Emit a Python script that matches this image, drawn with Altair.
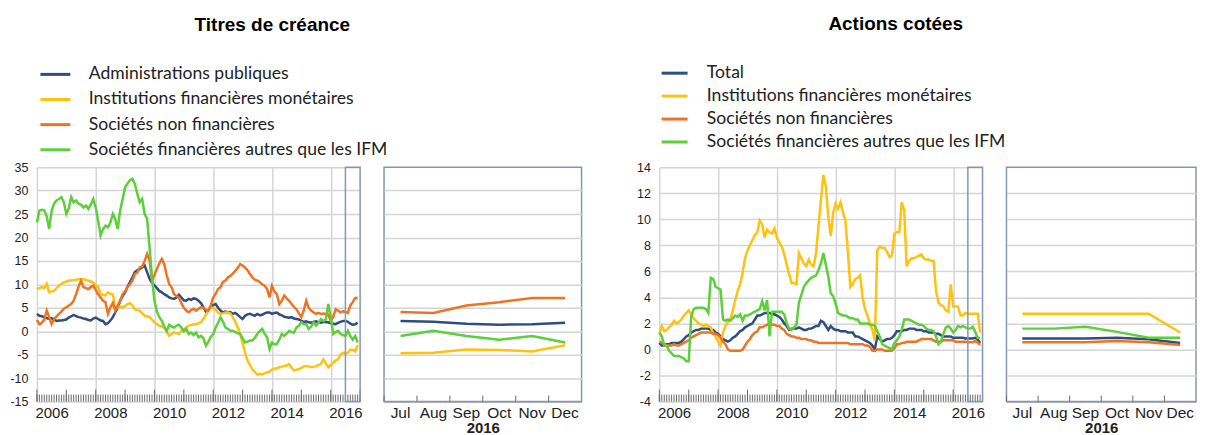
import altair as alt
import pandas as pd

# ---------------- data ----------------
years = list(range(2006, 2017))
zoom_months = ["Jul", "Aug", "Sep", "Oct", "Nov", "Dec"]

debt_labels = ["Administrations publiques", "Institutions financières monétaires",
               "Sociétés non financières", "Sociétés financières autres que les IFM"]
eq_labels = ["Total", "Institutions financières monétaires",
             "Sociétés non financières", "Sociétés financières autres que les IFM"]
series_colors = ["#2f4d7e", "#ffc20e", "#ee7423", "#5dcf3b"]

# Titres de créance (monthly, Jan 2006 - Dec 2016)
debt_apu = [3.7, 3.3, 3.2, 3.0, 2.8, 2.6, 2.8, 2.5, 2.2, 2.3, 2.3, 2.4,
            2.5, 2.9, 3.2, 3.5, 3.2, 3.0, 2.9, 2.7, 2.6, 2.4, 2.3, 2.7,
            2.9, 2.6, 2.3, 2.2, 1.5, 1.7, 2.3, 3.0, 4.0, 5.1, 6.5, 7.5,
            8.3, 9.5, 10.5, 11.5, 12.6, 13.0, 13.3, 13.6, 14.0, 12.6, 11.2, 10.3,
            9.8, 9.2, 8.6, 8.3, 7.9, 7.6, 7.2, 7.0, 6.9, 7.2, 7.8, 7.2,
            6.6, 6.5, 6.9, 6.7, 7.0, 6.9, 6.5, 6.0, 5.1, 4.2, 4.5, 5.1,
            5.6, 5.8, 5.0, 4.4, 4.0, 4.2, 4.0, 4.1, 3.7, 3.9, 3.5, 3.0,
            2.6, 3.3, 3.6, 3.7, 3.5, 3.3, 3.7, 3.4, 3.5, 3.8, 4.0, 4.0,
            3.7, 3.9, 4.0, 3.6, 3.4, 3.1, 3.0, 2.9, 3.0, 2.7, 2.6, 2.5,
            2.2, 2.0, 2.1, 1.9, 1.8, 2.0, 2.1, 1.9, 1.8, 2.0, 1.9, 1.9,
            1.7, 1.6, 1.5, 1.8, 2.0, 2.2, 2.2, 2.0, 1.6, 1.4, 1.5, 1.8]
debt_ifm = [9.0, 9.2, 9.4, 9.2, 10.1, 8.3, 8.5, 8.6, 9.2, 9.7, 10.1, 10.4,
            10.6, 10.8, 10.8, 10.9, 11.0, 11.1, 11.1, 11.1, 11.0, 10.8, 10.6, 10.4,
            9.8, 9.4, 7.9, 7.8, 7.6, 8.3, 8.0, 7.9, 5.1, 5.0, 5.3, 5.1,
            5.4, 5.8, 6.0, 5.5, 4.7, 4.5, 4.4, 3.8, 3.3, 3.2, 3.0, 2.5,
            1.9, 1.5, 1.2, 1.0, 0.8, 0.0, -1.0, -0.6, -0.3, -0.4, -0.6, 0.0,
            0.4, 0.8, 1.2, 1.3, 1.5, 1.5, 1.7, 1.9, 2.6, 3.5, 4.4, 5.0,
            5.0, 4.6, 4.0, 3.7, 3.8, 4.0, 4.0, 3.8, 3.0, 2.0, 0.8, -0.5,
            -2.5, -4.5, -6.3, -7.2, -8.1, -8.7, -9.2, -9.1, -9.2, -9.0, -8.8, -8.6,
            -8.2, -8.0, -7.9, -7.7, -7.6, -7.4, -7.3, -7.0, -7.8, -8.4, -8.2, -8.1,
            -7.8, -7.5, -7.4, -7.5, -7.7, -7.6, -7.5, -7.2, -7.0, -6.0, -6.8, -7.7,
            -7.2, -6.7, -6.2, -6.0, -5.0, -4.6, -4.7, -4.6, -3.9, -4.0, -4.3, -3.0]
debt_snf = [2.4, 1.5, 1.8, 2.5, 4.4, 3.0, 1.5, 2.5, 3.2, 3.7, 4.2, 4.8,
            5.1, 5.5, 5.8, 6.5, 7.9, 9.5, 10.8, 9.4, 9.2, 9.0, 9.4, 9.7,
            8.8, 7.9, 7.2, 6.5, 6.2, 3.7, 5.1, 6.0, 4.4, 5.5, 6.5, 7.9,
            8.5, 9.4, 10.0, 10.8, 12.2, 12.5, 13.6, 13.8, 15.0, 16.5, 15.1, 10.8,
            12.0, 13.3, 14.5, 15.4, 14.3, 12.0, 10.1, 9.4, 7.9, 7.5, 7.2, 6.0,
            5.0, 4.4, 4.0, 4.5, 4.8, 4.4, 4.8, 5.1, 5.0, 4.6, 4.4, 5.5,
            7.2, 8.0, 9.0, 9.4, 10.5, 10.8, 11.5, 11.8, 12.3, 12.9, 13.5, 14.3,
            14.0, 13.6, 13.0, 12.2, 11.5, 11.0, 10.8, 10.5, 10.0, 9.7, 9.0, 7.2,
            9.7, 8.5, 7.9, 5.8, 6.5, 7.6, 7.0, 6.5, 5.8, 5.2, 4.7, 3.8,
            3.0, 4.5, 6.5, 5.0, 4.4, 4.0, 3.7, 3.9, 3.7, 3.8, 3.7, 3.5,
            2.2, 3.0, 4.7, 4.4, 4.0, 4.3, 4.1, 3.9, 5.5, 6.2, 7.1, 7.1]
debt_sfai = [23.2, 25.7, 25.9, 25.8, 24.5, 21.8, 25.7, 27.2, 27.9, 28.2, 28.6, 27.5,
             25.0, 26.2, 28.6, 27.5, 27.9, 27.2, 27.0, 26.4, 26.8, 26.1, 27.0, 28.2,
             26.4, 23.6, 20.4, 21.8, 22.5, 22.2, 23.2, 25.0, 23.9, 21.8, 25.7, 28.2,
             30.7, 31.5, 32.2, 32.5, 31.4, 29.3, 27.5, 28.2, 25.0, 24.0, 17.9, 11.5,
             6.5, 4.2, 3.0, 2.2, 1.0, 0.0, 1.4, 1.0, 0.8, 1.2, 1.4, 0.8,
             0.0, 0.5, -0.6, -0.3, -0.8, -0.3, -1.3, -1.0, -1.5, -3.1, -2.3, -1.2,
             -0.6, 0.8, 1.8, 3.0, 2.0, 0.8, 0.5, 0.1, 0.1, -0.2, -0.4, -0.6,
             -1.5, -2.4, -2.2, -2.0, -2.0, -1.4, -0.6, 0.0, 0.5, -0.5, -1.3, -3.8,
             -2.4, -2.8, -2.7, -1.8, -0.6, -1.0, -0.5, 0.1, -0.2, -0.3, 0.8, 1.2,
             1.9, 1.5, 1.5, 0.5, 1.0, 1.9, 1.2, 1.8, 2.6, 2.2, 2.5, 5.8,
             3.0, -0.6, -0.2, 0.1, -0.6, -0.8, -1.0, 0.1, -1.0, -1.8, -1.0, -2.4]

# Actions cotées (monthly, Jan 2006 - Dec 2016)
eq_total = [0.5, 0.3, 0.3, 0.4, 0.4, 0.5, 0.5, 0.5, 0.5, 0.6, 0.8, 1.0,
            1.1, 1.3, 1.4, 1.5, 1.5, 1.6, 1.6, 1.6, 1.6, 1.5, 1.5, 1.3,
            1.2, 1.0, 0.8, 0.7, 0.6, 0.7, 0.9, 1.0, 1.2, 1.4, 1.5, 1.7,
            1.8, 1.9, 2.0, 2.3, 2.6, 2.6, 2.7, 2.8, 2.8, 2.8, 2.7, 2.7,
            2.6, 2.5, 2.3, 2.0, 1.8, 1.5, 1.6, 1.6, 1.6, 1.7, 1.6, 1.5,
            1.5, 1.6, 1.6, 1.7, 1.8, 1.8, 2.2, 2.1, 1.8, 1.5, 1.8, 1.6,
            1.5, 1.5, 1.4, 1.4, 1.4, 1.3, 1.3, 1.3, 1.0, 1.0, 0.9, 0.8,
            0.7, 0.6, 0.5, 0.3, 0.0, 1.0, 0.8, 0.6, 0.7, 0.8, 0.8, 0.9,
            1.1, 1.4, 1.4, 1.4, 1.5, 1.5, 1.6, 1.6, 1.6, 1.5, 1.5, 1.5,
            1.4, 1.4, 1.3, 1.3, 1.3, 1.2, 1.2, 1.1, 1.0, 1.0, 1.0, 1.0,
            0.9, 0.9, 0.9, 0.9, 0.9, 0.85, 0.85, 0.85, 0.85, 0.9, 0.78, 0.5]
eq_ifm = [1.2, 1.8, 1.4, 1.5, 1.7, 1.9, 2.2, 2.0, 2.1, 2.3, 2.6, 2.8,
          3.0, 2.7, 2.4, 2.2, 2.0, 1.9, 1.8, 1.9, 1.8, 1.7, 1.2, 1.0,
          0.6, 0.3, 1.3, 1.8, 2.1, 2.3, 3.0, 3.8, 4.5, 5.0, 5.9, 7.0,
          7.6, 8.0, 8.4, 8.8, 9.0, 9.9, 9.6, 8.6, 9.2, 9.0, 8.9, 9.3,
          8.6, 8.2, 7.9, 7.3, 6.5, 5.8, 5.1, 5.1, 5.0, 7.4, 7.0, 6.6,
          6.4, 6.9, 6.5, 6.4, 7.4, 9.5, 11.5, 13.4, 12.5, 10.2, 8.7, 10.5,
          11.2, 10.8, 11.3, 10.5, 9.9, 7.5, 4.8, 5.0, 5.4, 5.5, 5.7, 4.0,
          3.1, 2.6, 2.0, 1.5, 0.7, 7.6, 7.9, 7.8, 7.8, 7.5, 7.1, 7.2,
          8.9, 9.0, 9.0, 11.3, 10.7, 6.4, 6.8, 7.0, 7.0, 7.1, 7.2, 7.3,
          7.0, 6.9, 6.9, 6.8, 6.8, 4.5, 3.6, 3.4, 3.3, 3.0, 2.9, 5.0,
          3.3, 3.3, 3.3, 2.6, 2.6, 2.8, 2.75, 2.75, 2.75, 2.75, 2.75, 1.3]
eq_snf = [0.6, 0.5, 0.4, 0.3, 0.3, 0.3, 0.4, 0.3, 0.3, 0.4, 0.5, 0.6,
          0.7, 0.9, 1.0, 1.1, 1.2, 1.3, 1.3, 1.3, 1.3, 1.3, 1.2, 1.2,
          1.1, 0.9, 0.6, 0.4, 0.0, -0.1, -0.1, -0.1, -0.1, -0.1, 0.0, 0.3,
          0.6, 0.8, 1.1, 1.3, 1.4, 1.7, 1.7, 1.8, 1.9, 1.9, 1.9, 1.9,
          1.8, 1.8, 1.6, 1.5, 1.2, 1.1, 1.0, 1.0, 0.9, 0.9, 0.8, 0.8,
          0.8, 0.7, 0.7, 0.6, 0.6, 0.5, 0.5, 0.5, 0.5, 0.5, 0.5, 0.5,
          0.5, 0.5, 0.5, 0.5, 0.5, 0.5, 0.4, 0.4, 0.4, 0.4, 0.4, 0.4,
          0.3, 0.3, 0.2, -0.1, -0.1, 0.0, 0.0, 0.0, -0.1, -0.1, -0.1, -0.1,
          0.1, 0.4, 0.4, 0.5, 0.5, 0.6, 0.6, 0.6, 0.6, 0.6, 0.7, 0.8,
          0.8, 0.8, 0.8, 0.8, 0.7, 0.6, 0.6, 0.6, 0.7, 0.7, 0.7, 0.7,
          0.7, 0.6, 0.6, 0.6, 0.6, 0.6, 0.55, 0.55, 0.55, 0.65, 0.55, 0.35]
eq_sfai = [1.3, 1.0, 0.3, 0.3, -0.1, -0.3, -0.5, -0.5, -0.5, -0.6, -0.7, -0.9,
           -0.9, 2.5, 3.1, 3.2, 3.2, 3.2, 3.2, 3.1, 2.8, 5.5, 5.4, 4.8,
           4.7, 4.6, 2.3, 2.2, 2.3, 2.2, 2.4, 2.6, 2.5, 2.7, 2.2, 2.6,
           2.6, 2.7, 2.8, 2.9, 3.0, 3.1, 3.7, 3.0, 3.8, 1.0, 2.9, 2.9,
           2.9, 2.9, 2.9, 2.7, 2.0, 1.6, 1.5, 1.7, 1.9, 3.6, 4.2, 4.8,
           5.1, 5.3, 5.5, 5.6, 5.7, 6.1, 6.6, 7.4, 6.5, 5.6, 4.3, 4.1,
           3.5, 2.8, 2.7, 2.6, 2.6, 2.5, 2.4, 2.4, 2.3, 2.3, 2.0, 2.0,
           2.0, 2.0, 1.9, 1.9, 1.8, 1.4, 1.0, 0.4, 0.3, 0.2, 0.1, 0.0,
           0.5, 0.7, 1.0, 1.5, 2.3, 2.3, 2.3, 2.2, 2.1, 2.0, 1.9, 1.9,
           1.8, 1.6, 1.5, 1.5, 1.4, 1.0, 0.4, 0.6, 1.2, 1.7, 1.8, 1.6,
           1.3, 1.5, 1.8, 1.7, 1.8, 1.7, 1.6, 1.6, 1.75, 1.35, 0.9, 0.9]

# ---------------- tables ----------------
t_axis = [y + m / 12 for y in years for m in range(12)]


def long_table(labels, arrays):
    rows = []
    for lab, arr in zip(labels, arrays):
        for t, v in zip(t_axis, arr):
            rows.append({"t": t, "series": lab, "v": v})
    return pd.DataFrame(rows)


def zoom_table(labels, arrays):
    rows = []
    for lab, arr in zip(labels, arrays):
        for m, v in zip(zoom_months, arr[-6:]):
            rows.append({"month": m, "series": lab, "v": v})
    return pd.DataFrame(rows)


debt_arrays = [debt_apu, debt_ifm, debt_snf, debt_sfai]
eq_arrays = [eq_total, eq_ifm, eq_snf, eq_sfai]

# ---------------- styles ----------------
H = 235
W_MAIN = 324
GRID = "#d5d5d5"
TICK = "#6a6a6a"
FRAME = "#8497b8"
TXT = "#222222"
AXFONT = "Liberation Sans"
LW = 2.5
END_YEAR = years[-1] + 1
window = pd.DataFrame({"t": [years[-1] + 0.5], "end": [END_YEAR]})
month_marks = pd.DataFrame({"t": t_axis + [END_YEAR]})
year_marks = pd.DataFrame({"t": years + [END_YEAR]})


def main_panel(labels, arrays, ydom, ystep, title, title_dx, leg_x, leg_y,
               leg_size, row_pad):
    df = long_table(labels, arrays)
    xscale = alt.Scale(domain=[years[0], END_YEAR], nice=False, zero=False)
    yscale = alt.Scale(domain=ydom, nice=False, zero=False)
    label_expr = ("(datum.value % 2 == 0 && datum.value < " + str(END_YEAR)
                  + ") ? datum.value + '' : ''")
    year_axis = alt.Axis(
        orient="bottom", values=years + [END_YEAR], ticks=False, domain=False,
        grid=True, gridColor=GRID, gridWidth=1.5, labelExpr=label_expr,
        labelOffset=14.7, labelPadding=4, labelFont=AXFONT, labelFontSize=15,
        labelColor=TXT, labelFlush=False, labelOverlap=False, labelBound=False,
        title=None)
    y_axis = alt.Axis(
        values=list(range(ydom[0], ydom[1] + 1, ystep)), labelExpr="datum.value + ''",
        grid=True, gridColor=GRID, gridWidth=1.5, ticks=False, domain=False,
        labelPadding=9, labelFont=AXFONT, labelFontSize=12.5, labelColor=TXT,
        labelOverlap=False, title=None)
    half = (leg_size ** 0.5)
    color = alt.Color(
        "series:N", scale=alt.Scale(domain=labels, range=series_colors),
        legend=alt.Legend(
            title=None, orient="none", legendX=leg_x, legendY=leg_y,
            symbolType="M-2,0L2,0", symbolSize=leg_size, symbolStrokeWidth=3,
            labelFont="Lato", labelFontSize=17.6, labelColor=TXT, labelLimit=400,
            labelOffset=half / 2 + 17, rowPadding=row_pad, padding=0))
    lines = alt.Chart(df).mark_line(strokeWidth=LW).encode(
        x=alt.X("t:Q", scale=xscale, axis=year_axis),
        y=alt.Y("v:Q", scale=yscale, axis=y_axis),
        color=color)
    rect = alt.Chart(window).mark_rect(fillOpacity=0, stroke=FRAME, strokeWidth=1.5).encode(
        x=alt.X("t:Q", scale=xscale),
        x2="end:Q",
        y=alt.value(0), y2=alt.value(H))
    mticks = alt.Chart(month_marks).mark_rule(color=TICK, strokeWidth=1).encode(
        x=alt.X("t:Q", scale=xscale),
        y=alt.value(H - 7), y2=alt.value(H))
    yticks = alt.Chart(year_marks).mark_rule(color=TICK, strokeWidth=1).encode(
        x=alt.X("t:Q", scale=xscale),
        y=alt.value(H - 12), y2=alt.value(H))
    return alt.layer(lines, mticks, yticks, rect).properties(
        width=W_MAIN, height=H,
        view=alt.ViewBackground(stroke="transparent"),
        title=alt.TitleParams(title, font=AXFONT, fontSize=19, fontWeight="bold",
                              color="#000000", anchor="middle", frame="group",
                              dx=title_dx, offset=30))


def zoom_panel(labels, arrays, ydom, ystep, width):
    df = zoom_table(labels, arrays)
    xscale = alt.Scale(type="band", domain=zoom_months, paddingInner=0, paddingOuter=0)
    yscale = alt.Scale(domain=ydom, nice=False, zero=False)
    lab_axis = alt.Axis(
        orient="bottom", ticks=False, domain=True, domainColor="#9a9a9a",
        domainWidth=1.5, labelPadding=4, labelFont=AXFONT, labelFontSize=15.5,
        labelColor=TXT, labelAngle=0, grid=False, title=str(years[-1]),
        titleFont=AXFONT, titleFontSize=15, titleFontWeight="bold",
        titleColor=TXT, titlePadding=0)
    y_axis = alt.Axis(
        values=list(range(ydom[0] + ystep, ydom[1], ystep)), labels=False,
        ticks=False, domain=False, grid=True, gridColor=GRID, gridWidth=1.5,
        title=None)
    lines = alt.Chart(df).mark_line(strokeWidth=LW).encode(
        x=alt.X("month:O", scale=xscale, axis=lab_axis, sort=zoom_months, bandPosition=0.5),
        y=alt.Y("v:Q", scale=yscale, axis=y_axis),
        color=alt.Color("series:N", scale=alt.Scale(domain=labels, range=series_colors),
                        legend=None))
    ticks = alt.Chart(pd.DataFrame({"month": zoom_months})).mark_rule(
        color=TICK, strokeWidth=1).encode(
        x=alt.X("month:O", scale=xscale, sort=zoom_months, bandPosition=0),
        y=alt.value(H - 6), y2=alt.value(H))
    return alt.layer(lines, ticks).properties(
        width=width, height=H,
        view=alt.ViewBackground(stroke=FRAME, strokeWidth=1.5))


left_main = main_panel(debt_labels, debt_arrays, [-15, 35], 5, "Titres de créance",
                       74, 9.5, -102, 225, 7.2)
left_zoom = zoom_panel(debt_labels, debt_arrays, [-15, 35], 5, 198)
right_main = main_panel(eq_labels, eq_arrays, [-4, 14], 2, "Actions cotées",
                        75, 6.5, -103, 169, 4.0)
right_zoom = zoom_panel(eq_labels, eq_arrays, [-4, 14], 2, 190)

spacer = alt.Chart(pd.DataFrame({"s": [0]})).mark_point(opacity=0).encode(
    x=alt.X("s:Q", axis=None), y=alt.Y("s:Q", axis=None)).properties(
    width=30, height=H, view=alt.ViewBackground(stroke="transparent"))

chart = alt.hconcat(left_main, left_zoom, spacer, right_main, right_zoom,
                    spacing=24, bounds="flush").resolve_scale(
    color="independent", x="independent", y="independent").resolve_legend(
    color="independent").properties(
    padding={"left": 1, "top": 6, "right": 0, "bottom": 0}).configure(
    background="white")

chart.save("out.html", embed_options={"renderer": "svg", "actions": False})
